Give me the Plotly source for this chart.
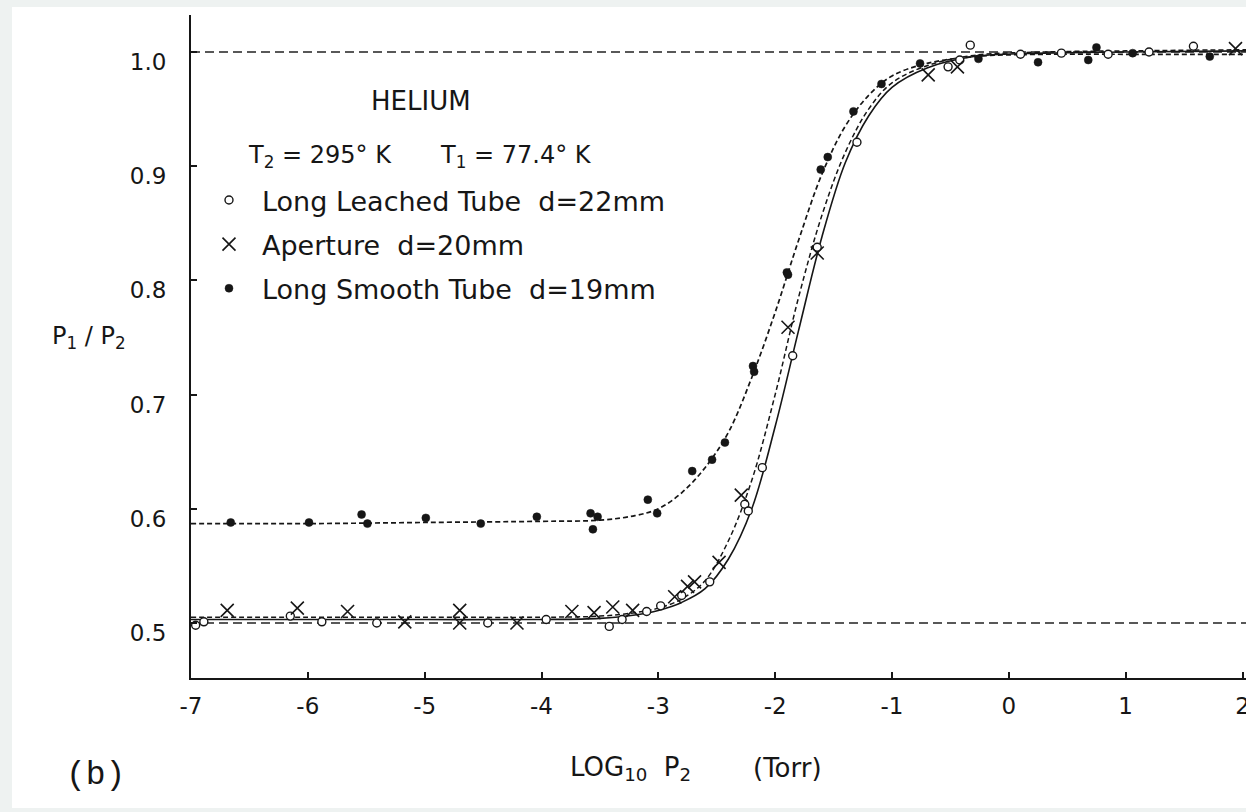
import plotly.graph_objects as go

# ---------------- data ----------------
leached_x = [-6.96, -6.89, -6.15, -5.88, -5.41, -4.46, -3.96, -3.42, -3.31, -3.10, -2.98, -2.80,
             -2.56, -2.26, -2.23, -2.11, -1.85, -1.64, -1.30, -0.52, -0.42, -0.33, 0.10, 0.45,
             0.85, 1.20, 1.58]
leached_y = [0.498, 0.501, 0.506, 0.501, 0.500, 0.500, 0.503, 0.497, 0.503, 0.510, 0.515, 0.524,
             0.536, 0.604, 0.598, 0.636, 0.734, 0.829, 0.921, 0.987, 0.993, 1.006, 0.998, 0.999,
             0.998, 1.000, 1.005]

aperture_x = [-6.69, -6.09, -5.66, -5.17, -4.70, -4.70, -4.21, -3.74, -3.55, -3.39, -3.22, -2.86,
              -2.75, -2.69, -2.48, -2.29, -1.89, -1.64, -0.69, -0.44, 1.94]
aperture_y = [0.511, 0.513, 0.510, 0.501, 0.511, 0.500, 0.500, 0.510, 0.509, 0.514, 0.511, 0.523,
              0.532, 0.536, 0.553, 0.612, 0.759, 0.824, 0.980, 0.987, 1.003]

smooth_x = [-6.66, -5.99, -5.54, -5.49, -4.99, -4.52, -4.04, -3.58, -3.56, -3.52, -3.09, -3.01,
            -2.71, -2.54, -2.43, -2.19, -2.18, -1.90, -1.89, -1.61, -1.55, -1.33, -1.09, -0.76,
            -0.26, 0.25, 0.68, 0.75, 1.06, 1.72]
smooth_y = [0.588, 0.588, 0.595, 0.587, 0.592, 0.587, 0.593, 0.596, 0.582, 0.593, 0.608, 0.596,
            0.633, 0.643, 0.658, 0.725, 0.720, 0.807, 0.805, 0.897, 0.908, 0.948, 0.972, 0.990,
            0.994, 0.991, 0.993, 1.004, 0.999, 0.996]

# fitted curves
fit_x = [-7.0, -6.0, -5.0, -4.0, -3.5, -3.2, -3.0, -2.8, -2.6, -2.4, -2.2, -2.0, -1.8, -1.6,
         -1.4, -1.2, -1.0, -0.7, -0.3, 0.3, 1.0, 2.03]
smooth_fit_y = [0.587, 0.587, 0.588, 0.589, 0.590, 0.594, 0.600, 0.614, 0.636, 0.667, 0.715,
                0.772, 0.835, 0.893, 0.935, 0.962, 0.979, 0.990, 0.996, 0.998, 0.998, 0.998]
leached_fit_y = [0.503, 0.503, 0.503, 0.503, 0.504, 0.507, 0.511, 0.518, 0.530, 0.556, 0.600,
                 0.672, 0.756, 0.838, 0.903, 0.944, 0.969, 0.986, 0.996, 0.999, 1.000, 1.001]
aperture_fit_y = [0.505, 0.505, 0.505, 0.505, 0.506, 0.509, 0.513, 0.521, 0.537, 0.572, 0.625,
                  0.700, 0.785, 0.857, 0.912, 0.950, 0.973, 0.988, 0.997, 1.000, 1.001, 1.002]

x_tick_vals = [-7, -6, -5, -4, -3, -2, -1, 0, 1, 2]
x_tick_text = ["-7", "-6", "-5", "-4", "-3", "-2", "-1", "0", "1", "2"]
y_tick_vals = [0.5, 0.6, 0.7, 0.8, 0.9, 1.0]
y_tick_text = ["0.5", "0.6", "0.7", "0.8", "0.9", "1.0"]
ref_levels = [1.0, 0.5]

series_names = ["Long Leached Tube\u00a0\u00a0d=22mm",
                "Aperture\u00a0\u00a0d=20mm",
                "Long Smooth Tube\u00a0\u00a0d=19mm"]

# ---------------- styling ----------------
INK = "#161616"
FONT = "DejaVu Sans"
W, H = 1246, 812
ML, MR, MT, MB = 191, 0, 15, 134
PW, PH = W - ML - MR, H - MT - MB


def px_to_paper(px, py):
    return (px - ML) / PW, (H - MB - py) / PH


fig = go.Figure()

# fitted curves
fig.add_trace(go.Scatter(x=fit_x, y=smooth_fit_y, mode="lines", line_shape="spline",
                         line=dict(color=INK, width=1.7, dash="5px,3px"), showlegend=False,
                         hoverinfo="skip"))
fig.add_trace(go.Scatter(x=fit_x, y=aperture_fit_y, mode="lines", line_shape="spline",
                         line=dict(color=INK, width=1.5, dash="5px,3px"), showlegend=False,
                         hoverinfo="skip"))
fig.add_trace(go.Scatter(x=fit_x, y=leached_fit_y, mode="lines", line_shape="spline",
                         line=dict(color=INK, width=1.6), showlegend=False, hoverinfo="skip"))

# data points
fig.add_trace(go.Scatter(x=leached_x, y=leached_y, mode="markers", name=series_names[0],
                         legendgroup="a",
                         marker=dict(symbol="circle", size=8, color="white",
                                     line=dict(color=INK, width=1.4))))
fig.add_trace(go.Scatter(x=aperture_x, y=aperture_y, mode="markers", name=series_names[1],
                         legendgroup="b",
                         marker=dict(symbol="x-thin-open", size=13, color=INK,
                                     line=dict(color=INK, width=1.6))))
fig.add_trace(go.Scatter(x=smooth_x, y=smooth_y, mode="markers", name=series_names[2],
                         legendgroup="c",
                         marker=dict(symbol="circle", size=8, color=INK,
                                     line=dict(color=INK, width=0.5))))

# white sheet on grey page
x0, y0 = px_to_paper(12, 808)
x1, y1 = px_to_paper(1246, 7)
fig.add_shape(type="rect", xref="paper", yref="paper", x0=x0, x1=x1 + 0.01, y0=y0, y1=y1,
              fillcolor="white", line=dict(width=0), layer="below")

# reference dashed levels
for lvl in ref_levels:
    fig.add_shape(type="line", xref="paper", yref="y", x0=0, x1=1, y0=lvl, y1=lvl,
                  line=dict(color="#222222", width=1.6, dash="9px,5px"), layer="below")


def note(text, px, py, size, xanchor="center", family=FONT):
    ax, ay = px_to_paper(px, py)
    fig.add_annotation(text=text, x=ax, y=ay, xref="paper", yref="paper", showarrow=False,
                       xanchor=xanchor, yanchor="middle",
                       font=dict(family=family, size=size, color=INK))


note("HELIUM", 421, 101, 26)
note("T<sub>2</sub> = 295° K", 246, 156, 24, xanchor="left")
note("T<sub>1</sub> = 77.4° K", 438, 156, 24, xanchor="left")
note("P<sub>1</sub> / P<sub>2</sub>", 89, 337, 24)
note("LOG<sub>10</sub>\u00a0\u00a0P<sub>2</sub>", 568, 768, 26, xanchor="left")
note("(Torr)", 751, 768, 26, xanchor="left")
note("(b)", 95, 775, 33, family="Liberation Mono")

lx, ly = px_to_paper(196, 176)

fig.update_layout(
    width=W, height=H,
    margin=dict(l=ML, r=MR, t=MT, b=MB, pad=0, autoexpand=False),
    paper_bgcolor="#eef2f1",
    plot_bgcolor="white",
    font=dict(family=FONT, color=INK),
    showlegend=True,
    legend=dict(x=lx, y=ly, xanchor="left", yanchor="top", bgcolor="rgba(0,0,0,0)",
                font=dict(family=FONT, size=27, color=INK), tracegroupgap=6,
                itemwidth=56, borderwidth=0),
    xaxis=dict(range=[-7.0, 2.03], tickmode="array", tickvals=x_tick_vals,
               ticktext=x_tick_text, ticks="inside", ticklen=6, tickwidth=1.5,
               tickcolor=INK, showline=True, linecolor=INK, linewidth=2,
               showgrid=False, zeroline=False, ticklabelstandoff=6,
               ticklabeloverflow="allow", automargin=False,
               tickfont=dict(family=FONT, size=23, color=INK)),
    yaxis=dict(range=[0.4518, 1.0324], tickmode="array", tickvals=y_tick_vals,
               ticktext=y_tick_text, ticks="inside", ticklen=6, tickwidth=1.5,
               tickcolor=INK, showline=True, linecolor=INK, linewidth=2,
               showgrid=False, zeroline=False, ticklabelstandoff=18,
               ticklabelshift=10, automargin=False,
               tickfont=dict(family=FONT, size=23, color=INK)),
)

fig.write_html("out.html")
